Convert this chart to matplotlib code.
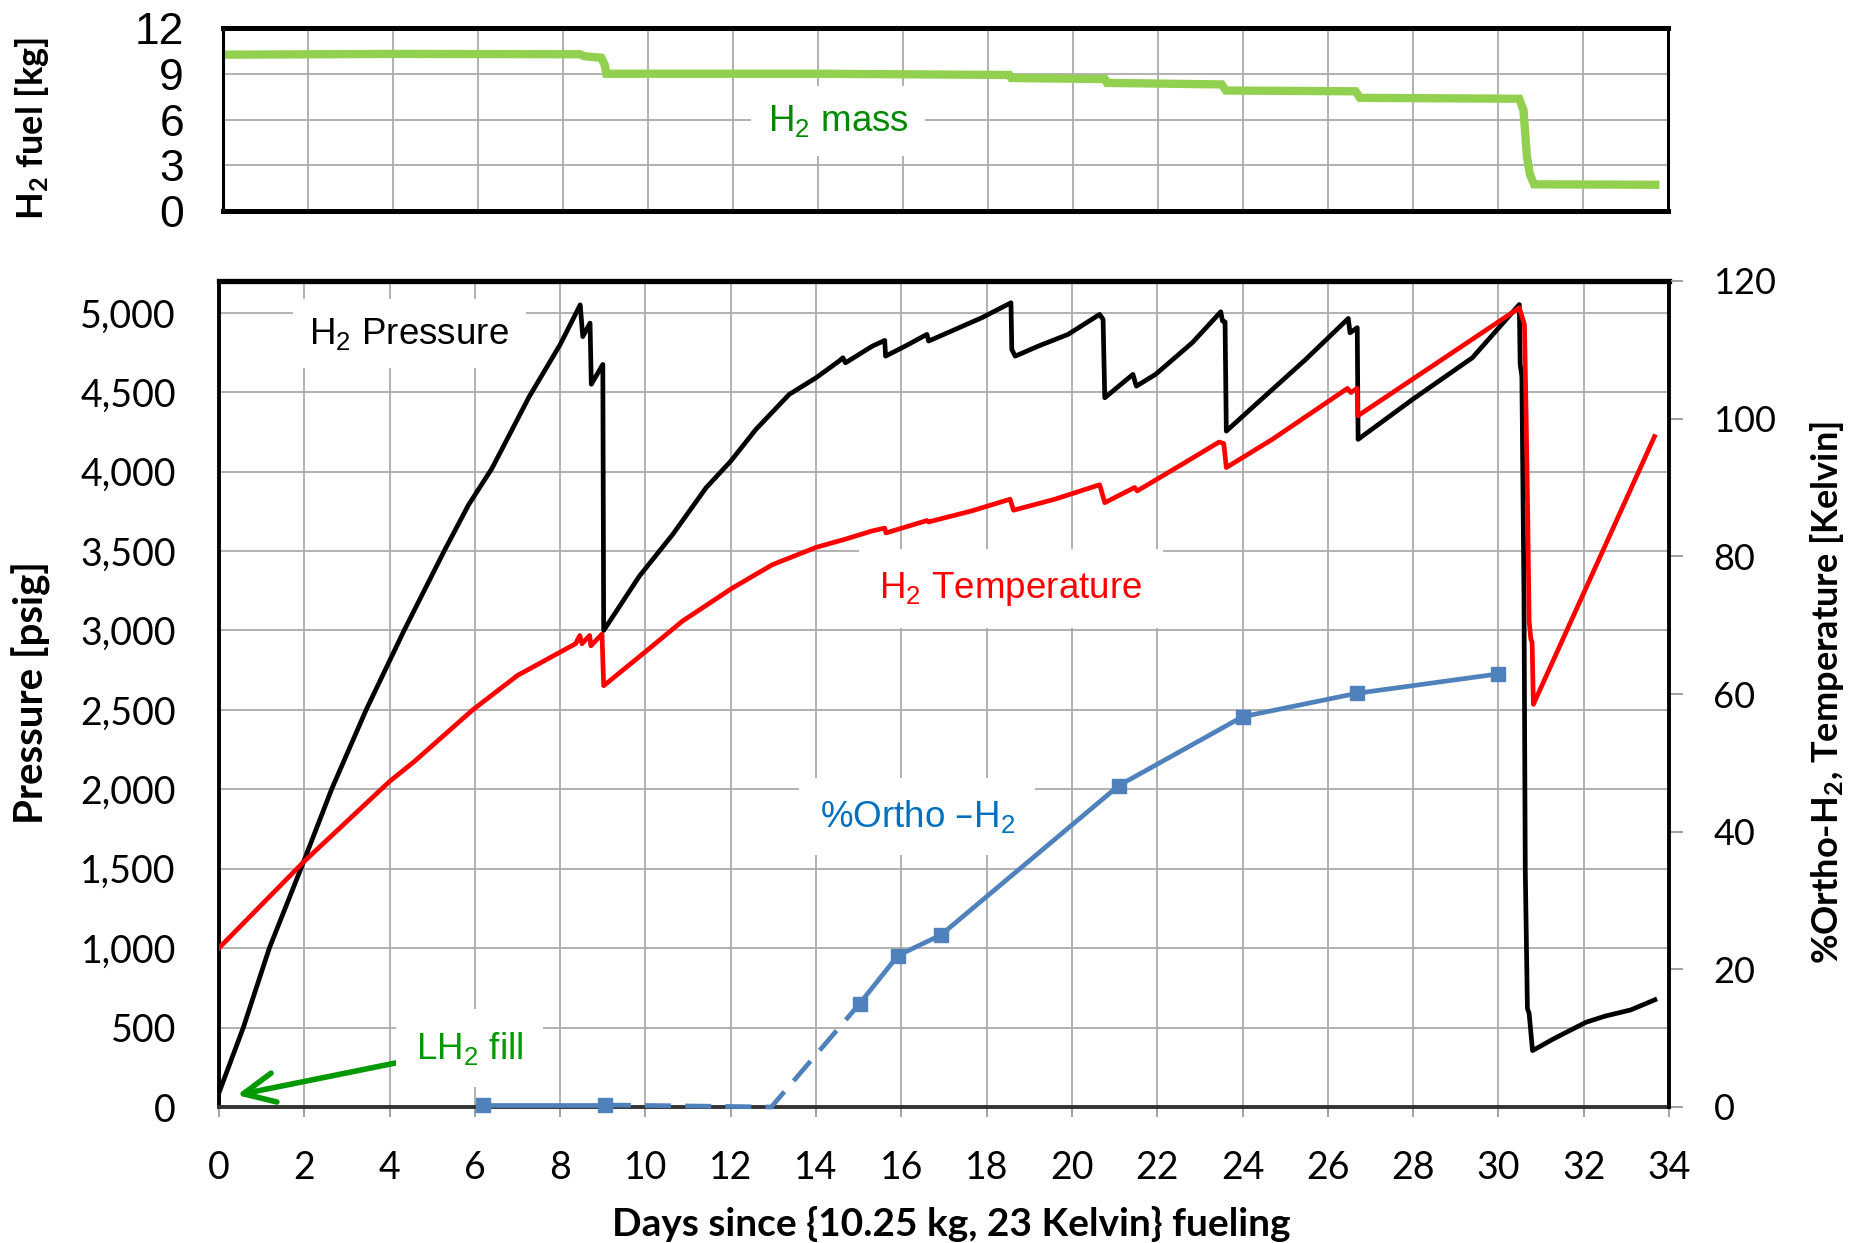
import numpy as np
import matplotlib.pyplot as plt
from matplotlib.ticker import FuncFormatter

plt.rcParams['font.family'] = ['Lato', 'DejaVu Sans']
plt.rcParams['mathtext.default'] = 'regular'

# H2 mass in the tank (top panel)
mass_days = [0.0, 4.0, 8.4, 8.5, 8.9, 8.98, 9.02, 14.0, 18.5, 18.55, 20.75, 20.8,
             23.5, 23.6, 26.65, 26.75, 30.5, 30.6, 30.68, 30.75, 30.85, 33.7]
mass_kg = [10.25, 10.3, 10.28, 10.15, 10.05, 9.6, 9.0, 9.0, 8.92, 8.72, 8.65, 8.4,
           8.3, 7.9, 7.85, 7.42, 7.36, 6.6, 3.6, 2.4, 1.75, 1.72]

# H2 pressure [psig]
p_days = [0.0, 0.57, 1.18, 1.92, 2.64, 3.45, 4.34, 5.28, 5.85, 6.4, 7.27, 8.0,
          8.47, 8.53, 8.70, 8.73, 9.00, 9.02, 9.86, 10.64, 11.42, 12.0, 12.59, 13.37,
          14.0, 14.54, 14.63, 14.69, 15.32, 15.61, 15.63, 16.09, 16.6, 16.64, 17.26,
          17.89, 18.57, 18.59, 18.67, 19.21, 19.91, 20.65, 20.73, 20.77, 21.43, 21.51,
          21.96, 22.82, 23.49, 23.53, 23.59, 23.62, 24.31, 25.48, 26.48, 26.52, 26.69,
          26.71, 27.99, 29.39, 30.49, 30.51, 30.55, 30.6, 30.63, 30.68, 30.72, 30.8,
          31.3, 32.05, 32.5, 33.1, 33.67]
p_psig = [90, 500, 1000, 1500, 2000, 2500, 3000, 3500, 3790, 4020, 4470, 4800,
          5050, 4850, 4935, 4550, 4675, 3000, 3343, 3605, 3898, 4066, 4266, 4486,
          4591, 4696, 4717, 4685, 4790, 4826, 4727, 4790, 4864, 4822, 4895,
          4969, 5063, 4769, 4727, 4790, 4864, 4990, 4958, 4465, 4612, 4538,
          4612, 4811, 5006, 4948, 4943, 4255, 4423, 4706, 4964, 4874, 4906,
          4203, 4455, 4717, 5052, 4675, 4600, 3200, 1490, 620, 590, 355,
          430, 533, 572, 611, 675]

# H2 temperature [K]
t_days = [0.0, 2.0, 4.0, 4.6, 5.95, 7.0, 8.36, 8.46, 8.51, 8.69, 8.72, 8.98, 9.02,
          10.03, 10.87, 12.04, 12.98, 14.0, 14.69, 15.32, 15.61, 15.64, 16.6, 16.64,
          17.65, 18.55, 18.63, 19.6, 20.65, 20.77, 21.47, 21.53, 22.59, 23.45, 23.56,
          23.62, 24.7, 26.46, 26.54, 26.69, 26.7, 30.49, 30.61, 30.65, 30.69, 30.72,
          30.76, 30.79, 30.82, 33.66]
t_kelvin = [23.1, 35.7, 47.3, 50.3, 57.7, 62.7, 67.3, 68.5, 67.3, 68.5, 67.0, 68.7, 61.2,
            66.3, 70.6, 75.4, 78.8, 81.3, 82.5, 83.7, 84.1, 83.4, 85.2, 85.0,
            86.6, 88.3, 86.7, 88.3, 90.4, 87.8, 90.0, 89.5, 93.4, 96.6, 96.4,
            92.9, 97.0, 104.4, 103.8, 104.4, 100.4, 116.1, 113.7, 100.6, 84.7, 70.6,
            68.0, 67.5, 58.5, 97.4]

# %ortho-H2 samples, plus the assumed onset of conversion (dashed part)
ortho_days = [6.2, 9.05, 15.02, 15.92, 16.93, 21.1, 24.0, 26.68, 29.98]
ortho_pct = [0.3, 0.3, 15.0, 22.0, 25.0, 46.7, 56.7, 60.1, 62.9]
ortho_onset = 12.95

day_ticks = np.arange(0, 35, 2)
psig_ticks = np.arange(0, 5001, 500)
kelvin_ticks = np.arange(0, 121, 20)
kg_ticks = [0, 3, 6, 9, 12]

W, H = 1854, 1243
fig = plt.figure(figsize=(W / 100, H / 100), dpi=100)


def box(l, t, r, b):
    return [l / W, 1 - b / H, (r - l) / W, (b - t) / H]


GRID = '#ABABAB'
ARIAL = ['Liberation Sans', 'DejaVu Sans']
NARROW = ['Liberation Sans Narrow', 'Liberation Sans', 'DejaVu Sans']

# ---- top panel: H2 mass
axm = fig.add_axes(box(223, 28, 1668, 211))
axm.plot(mass_days, mass_kg, color='#92D050', lw=6, solid_joinstyle='miter')
axm.set_xlim(0, 34)
axm.set_ylim(0, 12)
axm.set_xticks(day_ticks, labels=[])
axm.set_yticks(kg_ticks, labels=[str(k) for k in kg_ticks], fontfamily=NARROW, fontsize=32)
axm.tick_params(length=0)
axm.tick_params(axis='y', pad=28)
axm.grid(True, color=GRID, lw=1.3)
axm.set_axisbelow(True)
for s in ['top', 'bottom']:
    axm.spines[s].set_linewidth(3.6)
for s in ['left', 'right']:
    axm.spines[s].set_linewidth(2.2)
axm.text(14.47, 5.9, 'H$_2$ mass', color='#008A00', fontsize=26.5, fontfamily=ARIAL,
         ha='center', va='center',
         bbox=dict(boxstyle='square,pad=0.45', fc='white', ec='none'))

# ---- main panel
ax = fig.add_axes(box(219, 281, 1669, 1107))
ax2 = ax.twinx()

ax.plot(p_days, p_psig, color='black', lw=3.4)
ax2.plot(t_days, t_kelvin, color='#FF0000', lw=3.4)

blue = '#4F81BD'
ax2.plot(ortho_days[:2], ortho_pct[:2], color=blue, lw=3.4, marker='s', ms=10.5,
         clip_on=False, zorder=5)
ax2.plot([ortho_days[1], ortho_onset, ortho_days[2]], [ortho_pct[1], 0, ortho_pct[2]],
         color=blue, lw=3.4, ls=(0, (5.5, 3)), clip_on=False, zorder=5)
ax2.plot(ortho_days[2:], ortho_pct[2:], color=blue, lw=3.4, marker='s', ms=10.5, zorder=5)

ax.set_xlim(0, 34)
ax.set_ylim(0, 5200)
ax2.set_ylim(0, 120)
ax.set_xticks(day_ticks, labels=[str(d) for d in day_ticks], fontsize=27)
ax.set_yticks(psig_ticks)
ax.yaxis.set_major_formatter(FuncFormatter(lambda v, p: f'{v:,.0f}'))
ax.tick_params(axis='y', length=0, pad=31, labelsize=27)
ax.tick_params(axis='x', length=7, width=1.3, color='#999999', pad=24)
ax2.set_yticks(kelvin_ticks, labels=[str(k) for k in kelvin_ticks], fontsize=26)
ax2.tick_params(axis='y', length=10, width=1.3, color='#999999', pad=22)

ax.grid(True, color=GRID, lw=1.3)
ax.set_axisbelow(True)

for s in ax2.spines.values():
    s.set_visible(False)
ax.spines['right'].set_visible(False)
ax2.spines['right'].set_visible(True)
ax2.spines['right'].set_linewidth(2.8)
ax.spines['top'].set_linewidth(3.8)
ax.spines['left'].set_linewidth(2.8)
ax.spines['bottom'].set_linewidth(2.8)
ax.spines['bottom'].set_color('#333333')

# in-plot labels
ax.text(4.46, 4867, 'H$_2$ Pressure', color='black', fontsize=26.5, fontfamily=ARIAL,
        ha='center', va='center', bbox=dict(boxstyle='square,pad=0.45', fc='white', ec='none'))
ax.text(18.57, 3263, 'H$_2$ Temperature', color='#FF0000', fontsize=26.5, fontfamily=ARIAL,
        ha='center', va='center', bbox=dict(boxstyle='square,pad=0.55', fc='white', ec='none'))
ax.text(16.37, 1830, '%Ortho \u2013H$_2$', color='#0070C0', fontsize=26.5, fontfamily=ARIAL,
        ha='center', va='center', bbox=dict(boxstyle='square,pad=0.55', fc='white', ec='none'))
ax.annotate('LH$_2$ fill', xy=(0.42, 75), xytext=(5.87, 371), color='#009900',
            fontsize=26.5, fontfamily=ARIAL, ha='center', va='center',
            bbox=dict(boxstyle='square,pad=0.55', fc='white', ec='none'),
            arrowprops=dict(arrowstyle='->,head_length=0.85,head_width=0.4',
                            color='#009900', lw=4, shrinkA=0, shrinkB=0))

# axis titles
fig.text(32 / W, 1 - 128 / H, 'H$_2$ fuel [kg]', rotation=90, ha='center', va='center',
         fontsize=26, fontweight='bold')
fig.text(31 / W, 1 - 693 / H, 'Pressure [psig]', rotation=90, ha='center', va='center',
         fontsize=29, fontweight='bold')
fig.text(1827 / W, 1 - 693 / H, '%Ortho-H$_2$, Temperature [Kelvin]', rotation=90,
         ha='center', va='center', fontsize=26, fontweight='bold')
fig.text(951 / W, 1 - 1224 / H, 'Days since {10.25 kg, 23 Kelvin} fueling',
         ha='center', va='center', fontsize=28, fontweight='bold')

fig.savefig('out.png', dpi=100, facecolor='white')
